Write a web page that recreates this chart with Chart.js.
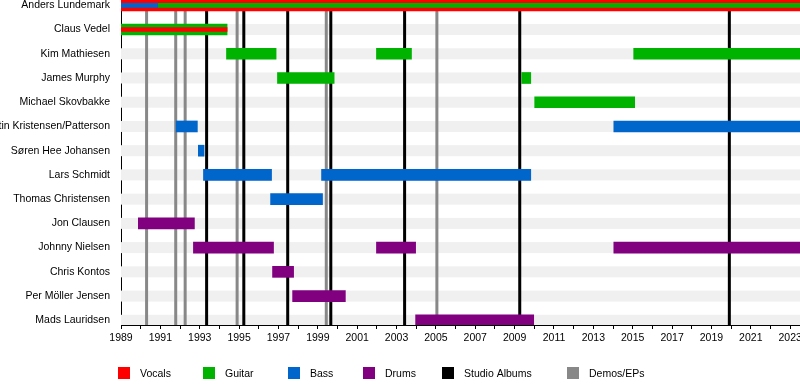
<!DOCTYPE html>
<html lang="en">
<head>
<meta charset="UTF-8">
<title>Konkhra members timeline</title>
<script src="https://cdn.jsdelivr.net/npm/chart.js"></script>
<style>
  html, body { margin: 0; padding: 0; background: #fff; }
  #wrap { position: relative; width: 800px; height: 385px; overflow: hidden; }
  /* canvas is a bit bigger than the window so the plot can run off the top and right edge */
  #timeline { position: absolute; left: 0; top: -20px; }
</style>
</head>
<body>
<div id="wrap"><canvas id="timeline" width="820" height="405"></canvas></div>
<script>
const members = [
  'Anders Lundemark', 'Claus Vedel', 'Kim Mathiesen', 'James Murphy',
  'Michael Skovbakke', 'Martin Kristensen/Patterson', 'Søren Hee Johansen',
  'Lars Schmidt', 'Thomas Christensen', 'Jon Clausen', 'Johnny Nielsen',
  'Chris Kontos', 'Per Möller Jensen', 'Mads Lauridsen'
];

const present = 2023.5;

// main role of each member: [name, from, to]
const vocals = [
  ['Anders Lundemark', 1989, present]
];
const guitar = [
  ['Claus Vedel', 1989, 1994.39],
  ['Kim Mathiesen', 1994.36, 1996.88],
  ['Kim Mathiesen', 2001.98, 2003.76],
  ['Kim Mathiesen', 2015.05, present],
  ['James Murphy', 1996.95, 1999.83],
  ['James Murphy', 2009.36, 2009.82],
  ['Michael Skovbakke', 2010.02, 2015.1]
];
const bass = [
  ['Martin Kristensen/Patterson', 1991.8, 1992.88],
  ['Martin Kristensen/Patterson', 2014.04, present],
  ['Søren Hee Johansen', 1992.93, 1993.22],
  ['Lars Schmidt', 1993.19, 1996.65],
  ['Lars Schmidt', 1999.19, 2009.82],
  ['Thomas Christensen', 1996.6, 1999.24]
];
const drums = [
  ['Jon Clausen', 1989.88, 1992.73],
  ['Johnny Nielsen', 1992.68, 1996.75],
  ['Johnny Nielsen', 2001.98, 2003.97],
  ['Johnny Nielsen', 2014.04, present],
  ['Chris Kontos', 1996.7, 1997.77],
  ['Per Möller Jensen', 1997.72, 2000.4],
  ['Mads Lauridsen', 2003.97, 2009.97]
];

// second roles, drawn as a thin stripe inside the main bar
const vocalsAlso = [['Claus Vedel', 1989, 1994.39]];
const guitarAlso = [['Anders Lundemark', 1990.9, present]];
const bassAlso = [['Anders Lundemark', 1989, 1990.9]];

// release dates
const studioAlbums = [1993.35, 1995.24, 1997.47, 1999.66, 2003.41, 2009.26, 2019.91];
const demos = [1990.3, 1991.78, 1992.26, 1994.9, 1999.43, 2005.05];

const yearLabels = ['1989', '1991', '1993', '1995', '1997', '1999', '2001', '2003', '2005',
  '2007', '2009', '2011', '2013', '2015', '2017', '2019', '2021', '2023'];

const legendLabels = ['Vocals', 'Guitar', 'Bass', 'Drums', 'Studio Albums', 'Demos/EPs'];
const legendColors = ['#ff0000', '#00b300', '#0066cc', '#800080', '#000000', '#888888'];

function spans(list) {
  return list.map(([name, from, to]) => ({ x: [from, to], y: members.indexOf(name) }));
}

function mainBar(label, list, color) {
  return { label, data: spans(list), backgroundColor: color, barThickness: 11, grouped: false, order: 1 };
}
function innerBar(label, list, color) {
  return { label, data: spans(list), backgroundColor: color, barThickness: 4, grouped: false, order: 0 };
}

// stripes behind each row, release lines, and the legend
const timelineExtras = {
  id: 'timelineExtras',
  beforeDatasetsDraw(chart) {
    const { ctx, chartArea: a, scales: { x, y } } = chart;
    ctx.save();
    ctx.beginPath();
    ctx.rect(a.left, a.top, a.right - a.left, a.bottom - a.top);
    ctx.clip();
    ctx.fillStyle = '#f0f0f0';
    members.forEach((m, i) => {
      const py = y.getPixelForValue(i);
      ctx.fillRect(a.left, py - 5.5, a.right - a.left, 11);
    });
    const drawLines = (years, color) => {
      ctx.fillStyle = color;
      years.forEach(yr => {
        const px = x.getPixelForValue(yr);
        ctx.fillRect(px - 1.5, a.top, 3, a.bottom - a.top);
      });
    };
    drawLines(demos, '#888888');
    drawLines(studioAlbums, '#000000');
    ctx.restore();
  },
  afterDraw(chart) {
    const ctx = chart.ctx;
    const xs = [118, 203, 288, 363, 442, 567];
    const top = 387;
    ctx.save();
    ctx.font = '10.5px "Liberation Sans", Arial, sans-serif';
    ctx.textBaseline = 'middle';
    ctx.textAlign = 'left';
    legendLabels.forEach((lab, i) => {
      ctx.fillStyle = legendColors[i];
      ctx.fillRect(xs[i], top, 12, 12);
      ctx.fillStyle = '#000';
      ctx.fillText(lab, xs[i] + 22, top + 7);
    });
    ctx.restore();
  }
};

Chart.defaults.font.family = '"Liberation Sans", Arial, sans-serif';
Chart.defaults.font.size = 10.5;
Chart.defaults.color = '#000';

new Chart(document.getElementById('timeline'), {
  type: 'bar',
  data: {
    datasets: [
      innerBar('Vocals (also)', vocalsAlso, '#ff0000'),
      innerBar('Guitar (also)', guitarAlso, '#00b300'),
      innerBar('Bass (also)', bassAlso, '#0066cc'),
      mainBar('Vocals', vocals, '#ff0000'),
      mainBar('Guitar', guitar, '#00b300'),
      mainBar('Bass', bass, '#0066cc'),
      mainBar('Drums', drums, '#800080')
    ]
  },
  options: {
    indexAxis: 'y',
    responsive: false,
    animation: false,
    events: [],
    layout: { padding: { top: 20, right: 20, bottom: 40, left: 0 } },
    plugins: {
      legend: { display: false },
      tooltip: { enabled: false }
    },
    scales: {
      x: {
        type: 'linear',
        position: 'bottom',
        min: 1989,
        max: present,
        afterBuildTicks: s => {
          s.ticks = [];
          for (let yr = +yearLabels[0]; yr <= +yearLabels[yearLabels.length - 1]; yr++) s.ticks.push({ value: yr });
        },
        afterFit: s => { s.height = 20; },
        ticks: {
          autoSkip: false,
          maxRotation: 0,
          padding: 3,
          callback: v => yearLabels.includes(String(v)) ? String(v) : ''
        },
        grid: { drawOnChartArea: false, tickLength: 4, color: '#000' },
        border: { color: '#000' }
      },
      y: {
        type: 'linear',
        reverse: true,
        offset: false,
        min: -0.219,
        max: 13.194,
        afterBuildTicks: s => { s.ticks = members.map((m, i) => ({ value: i })); },
        afterFit: s => { s.width = 121; },
        ticks: {
          autoSkip: false,
          padding: 11,
          callback: v => members[v]
        },
        grid: { display: false, drawTicks: false, offset: false },
        border: { color: '#000' }
      }
    }
  },
  plugins: [timelineExtras]
});
</script>
</body>
</html>
